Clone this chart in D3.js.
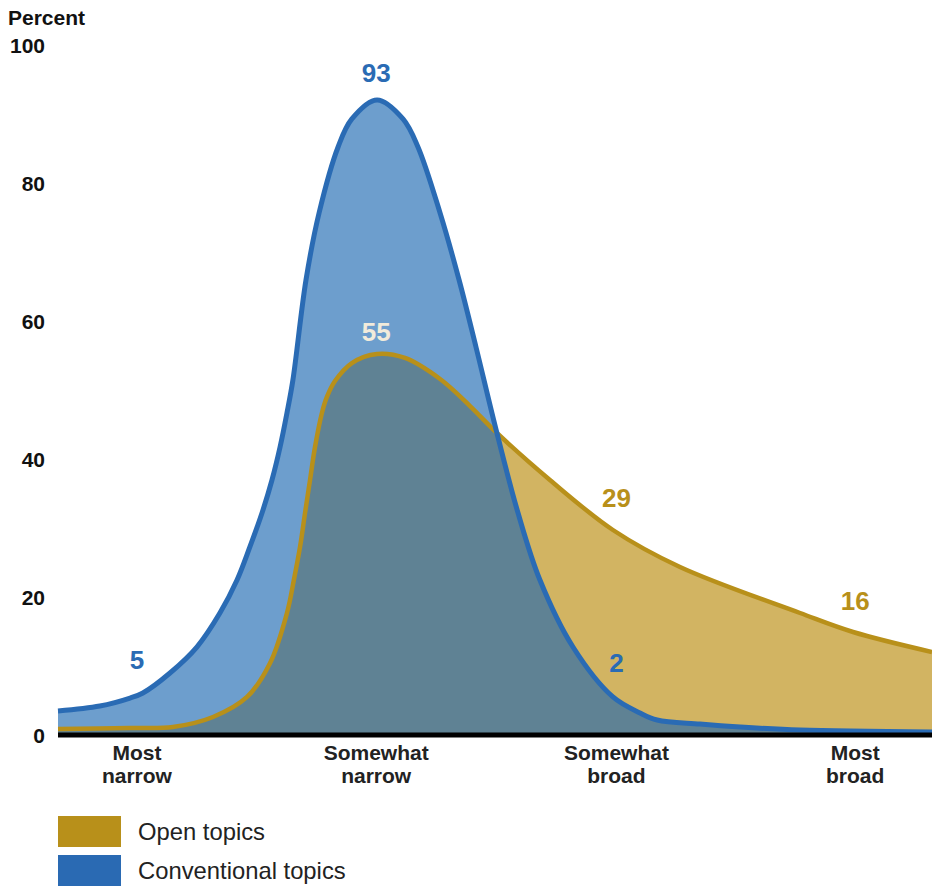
<!DOCTYPE html>
<html><head><meta charset="utf-8">
<script src="https://cdn.jsdelivr.net/npm/d3@7"></script>
<style>body{margin:0;background:#fff}svg{display:block}text{font-family:"Liberation Sans",Arial,sans-serif}</style>
</head><body>
<svg id="c" width="932" height="886"></svg>
<script>
// Categories (positions 0..3 on the x axis)
const categories = [["Most","narrow"],["Somewhat","narrow"],["Somewhat","broad"],["Most","broad"]];
const yTicks = [0,20,40,60,80,100];
const seriesNames = ["Open topics","Conventional topics"];
// Labeled values
const openLabels = [{pos:1,v:55},{pos:2,v:29},{pos:3,v:16}];
const convLabels = [{pos:0,v:5},{pos:1,v:93},{pos:2,v:2}];
// Curve traces: [position, percent]
const convTrace = [[-0.353,3.48],[-0.177,4.20],[-0.050,5.36],[0.004,6.09],[0.118,8.99],[0.231,12.75],[0.328,17.68],[0.400,22.46],[0.454,27.25],[0.505,32.17],[0.547,36.96],[0.581,41.74],[0.610,46.67],[0.635,51.45],[0.690,65.94],[0.745,75.65],[0.825,85.22],[0.883,89.28],[0.989,92.03],[1.098,89.28],[1.161,85.22],[1.254,75.65],[1.334,65.94],[1.405,56.23],[1.493,43.77],[1.582,32.17],[1.674,22.46],[1.813,12.75],[1.981,5.51],[2.095,3.19],[2.167,2.17],[2.347,1.59],[2.516,1.16],[2.768,0.72],[3.323,0.43]];
const openTrace = [[-0.353,0.87],[-0.050,1.01],[0.130,1.16],[0.299,2.61],[0.442,5.51],[0.539,10.43],[0.610,17.68],[0.639,22.46],[0.665,27.25],[0.686,32.17],[0.707,36.96],[0.728,41.74],[0.757,46.67],[0.778,48.99],[0.812,51.30],[0.883,53.91],[0.989,55.22],[1.106,54.64],[1.254,51.59],[1.380,47.68],[1.493,43.77],[1.716,36.96],[1.981,29.71],[2.263,24.35],[2.768,17.68],[2.991,14.93],[3.323,12.03]];

const svg = d3.select("#c");
const x = d3.scaleLinear().domain([-0.353,3.323]).range([58,932]);
const y = d3.scaleLinear().domain([0,100]).range([735,45]);
const labelNudge = [-5,-3.5,-1,0];

const curve = d3.curveCatmullRom.alpha(0.5);
const area = d3.area().x(d=>x(d[0])).y0(y(0)).y1(d=>y(d[1])).curve(curve);
const line = d3.line().x(d=>x(d[0])).y(d=>y(d[1])).curve(curve);

const defs = svg.append("defs");
defs.append("clipPath").attr("id","convClip").append("path").attr("d",area(convTrace));

svg.append("path").attr("d",area(openTrace)).attr("fill","#d2b462");
svg.append("path").attr("d",area(convTrace)).attr("fill","#6d9ecd");
svg.append("path").attr("d",area(openTrace)).attr("fill","#5f8294").attr("clip-path","url(#convClip)");
svg.append("path").attr("d",line(openTrace)).attr("fill","none").attr("stroke","#b8901a").attr("stroke-width",4.5);
svg.append("path").attr("d",line(convTrace)).attr("fill","none").attr("stroke","#2a6bb4").attr("stroke-width",5);

// baseline
svg.append("line").attr("x1",x(-0.353)).attr("x2",x(3.323)).attr("y1",y(0)).attr("y2",y(0)).attr("stroke","#000").attr("stroke-width",5);

// y axis labels
const yAxis = d3.axisLeft(y).tickValues(yTicks).tickSize(0).tickPadding(0);
const ga = svg.append("g").attr("transform","translate(45,0)").call(yAxis);
ga.select(".domain").remove();
ga.selectAll("text").attr("font-size",21).attr("font-weight","bold").attr("fill","#111").attr("font-family","'Liberation Sans',Arial,sans-serif").attr("dy","0.35em");
svg.append("text").attr("x",8).attr("y",25).attr("font-size",21).attr("font-weight","bold").attr("fill","#111").text("Percent");

// x labels
categories.forEach((c,i)=>{
  const cx = x(i)+labelNudge[i];
  const t = svg.append("text").attr("text-anchor","middle").attr("font-size",21).attr("font-weight","bold").attr("fill","#222");
  t.append("tspan").attr("x",cx).attr("y",760).text(c[0]);
  t.append("tspan").attr("x",cx).attr("y",783).text(c[1]);
});

// value labels
const convY = {0:669,1:82,2:672};
convLabels.forEach(d=>{
  svg.append("text").attr("x",x(d.pos)+labelNudge[d.pos]).attr("y",convY[d.pos])
    .attr("text-anchor","middle").attr("font-size",26).attr("font-weight","bold").attr("fill","#2a6bb4").text(d.v);
});
const openY = {1:341,2:507,3:610};
openLabels.forEach(d=>{
  svg.append("text").attr("x",x(d.pos)+labelNudge[d.pos]).attr("y",openY[d.pos]).attr("text-anchor","middle").attr("font-size",26).attr("font-weight","bold")
    .attr("fill",d.pos===1?"#f1ebdb":"#b8901a").text(d.v);
});

// legend
const legColors = ["#b8901a","#2a6ab3"];
seriesNames.forEach((n,i)=>{
  svg.append("rect").attr("x",58).attr("y",816+i*39).attr("width",63).attr("height",31).attr("fill",legColors[i]);
  svg.append("text").attr("x",138).attr("y",832+i*39).attr("dy","0.35em").attr("font-size",23.8).attr("fill","#222").text(n);
});
</script>
</body></html>
